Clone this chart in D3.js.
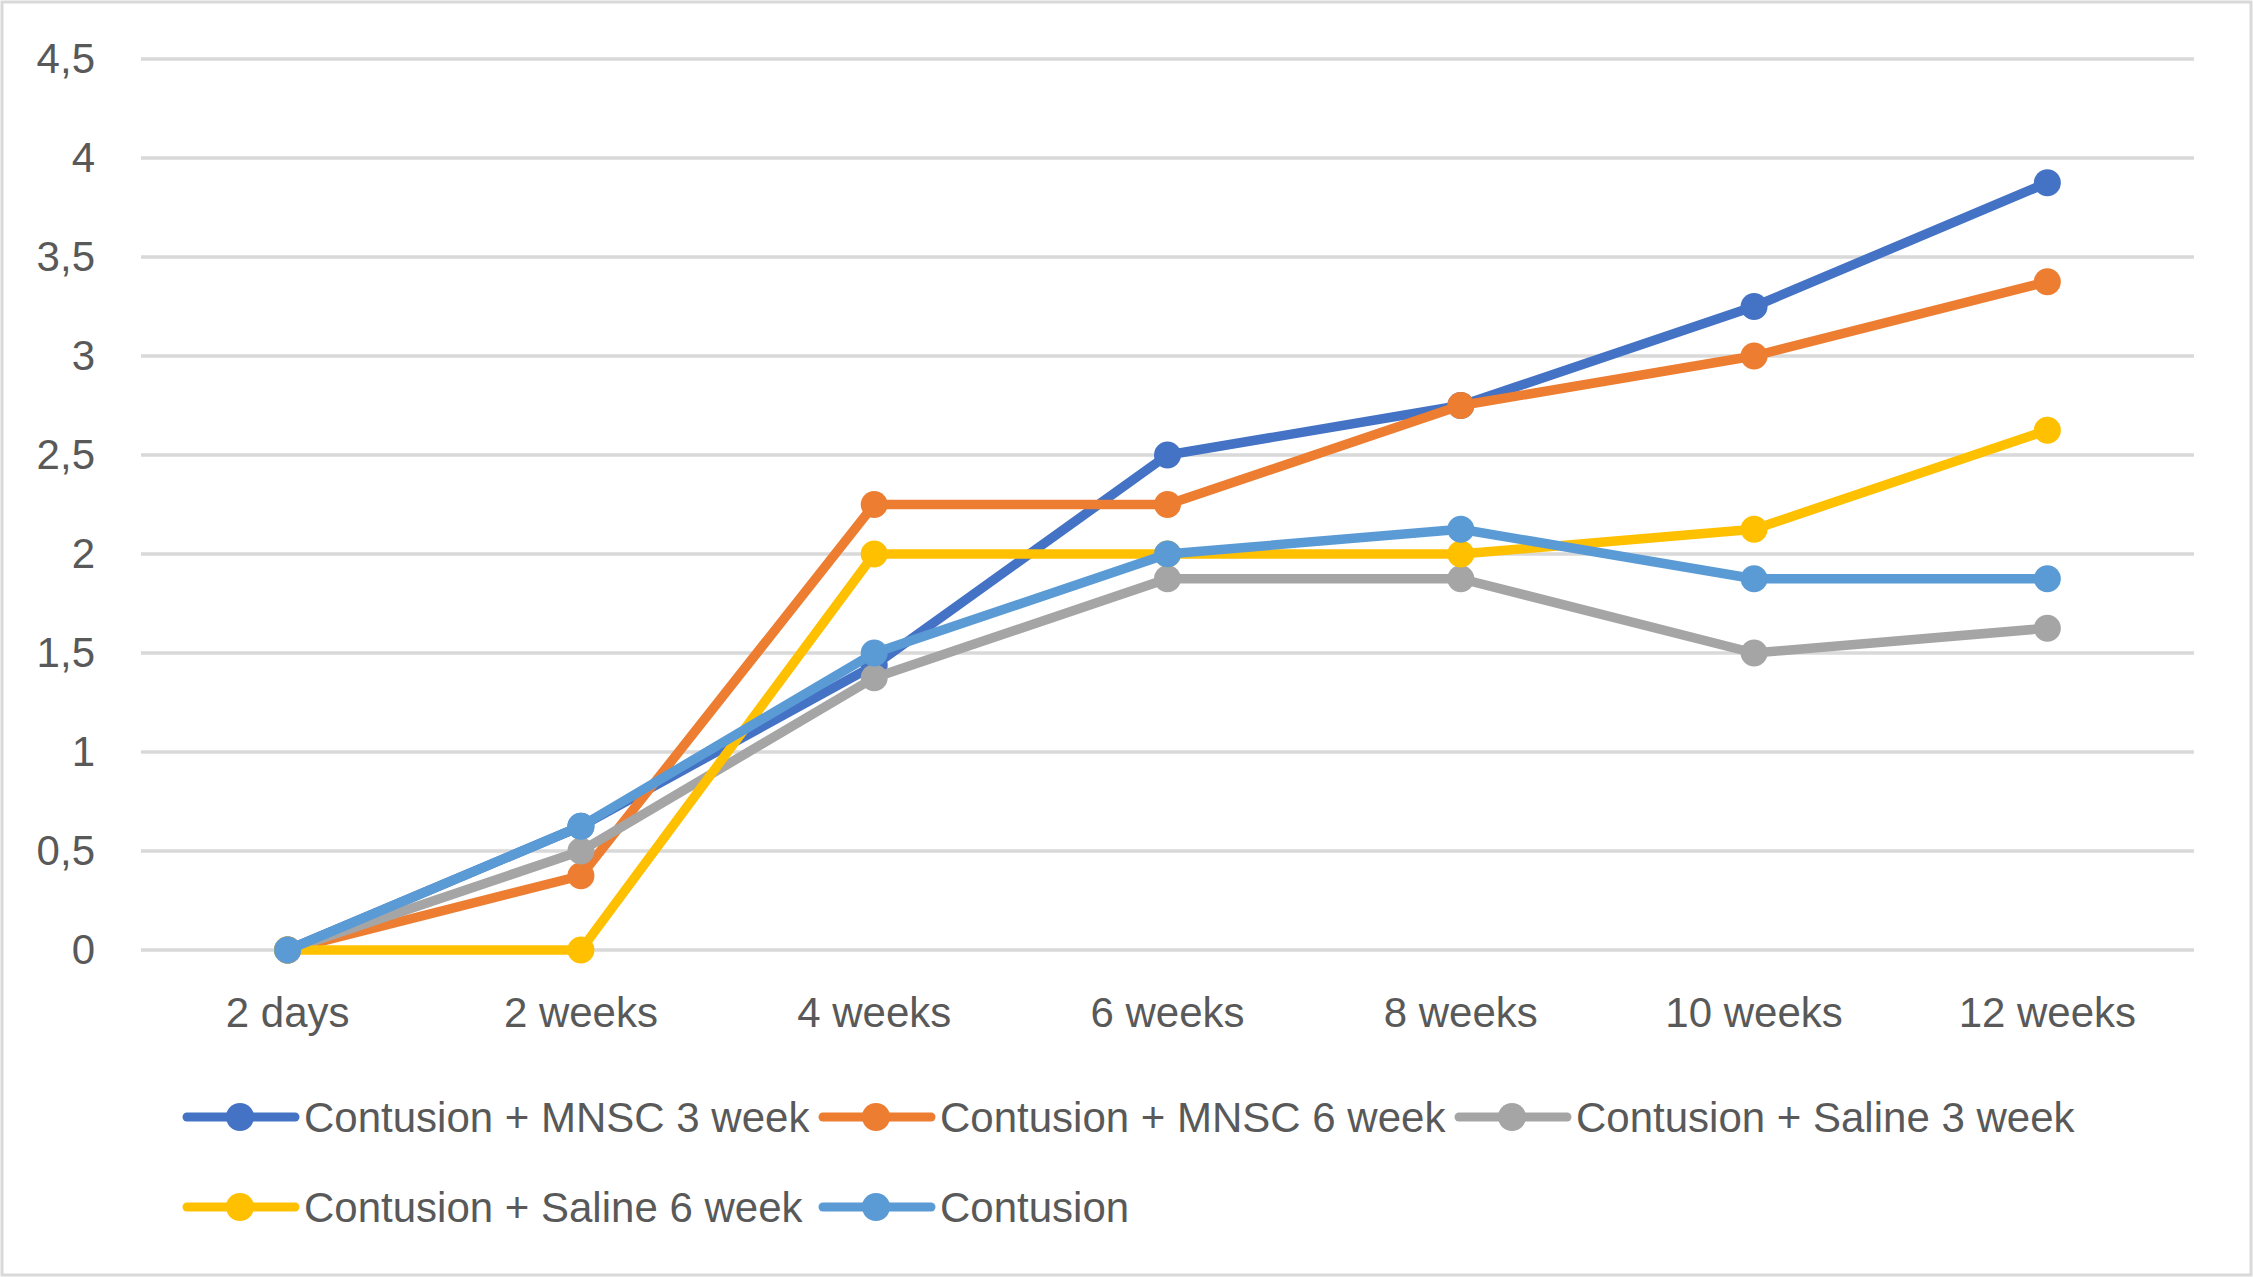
<!DOCTYPE html>
<html><head><meta charset="utf-8">
<script src="https://cdn.jsdelivr.net/npm/d3@7"></script>
<style>html,body{margin:0;padding:0;background:#fff;}svg{display:block;}</style>
</head><body>
<script>
const categories = ["2 days","2 weeks","4 weeks","6 weeks","8 weeks","10 weeks","12 weeks"];
const seriesNames = ["Contusion + MNSC 3 week","Contusion + MNSC 6 week","Contusion + Saline 3 week","Contusion + Saline 6 week","Contusion"];
const mnsc3 = [0, 0.625, 1.4375, 2.5, 2.75, 3.25, 3.875];
const mnsc6 = [0, 0.375, 2.25, 2.25, 2.75, 3.0, 3.375];
const saline3 = [0, 0.5, 1.375, 1.875, 1.875, 1.5, 1.625];
const saline6 = [0, 0, 2.0, 2.0, 2.0, 2.125, 2.625];
const contusion = [0, 0.625, 1.5, 2.0, 2.125, 1.875, 1.875];
const yTicks = [0, 0.5, 1, 1.5, 2, 2.5, 3, 3.5, 4, 4.5];
const colors = ["#4472C4","#ED7D31","#A5A5A5","#FFC000","#5B9BD5"];

(function(){
const series = [mnsc3, mnsc6, saline3, saline6, contusion].map((v,i)=>({name:seriesNames[i], values:v, color:colors[i]}));

const W = 2253, H = 1277;
const svg = d3.select("body").append("svg").attr("width", W).attr("height", H);
svg.append("rect").attr("x",2).attr("y",2).attr("width",W-4).attr("height",H-4)
  .attr("fill","#fff").attr("stroke","#D9D9D9").attr("stroke-width",3);

const pLeft = 141, pRight = 2194, pTop = 59, pBottom = 950;
const x = d3.scaleBand().domain(categories).range([pLeft, pRight]);
const y = d3.scaleLinear().domain([0, 4.5]).range([pBottom, pTop]);
const loc = d3.formatLocale({decimal:",", thousands:".", grouping:[3], currency:["",""]});
const fmt = loc.format("~g");
const font = "'Liberation Sans', Arial, sans-serif";
const txt = "#595959";
const fs = 42;

svg.append("g").selectAll("line").data(yTicks).join("line")
  .attr("x1", pLeft).attr("x2", pRight)
  .attr("y1", d=>y(d)).attr("y2", d=>y(d))
  .attr("stroke", "#D9D9D9").attr("stroke-width", 3.5);

const yAxis = svg.append("g").attr("transform", `translate(${pLeft},0)`)
  .call(d3.axisLeft(y).tickValues(yTicks).tickFormat(fmt).tickSize(0).tickPadding(46));
yAxis.select(".domain").remove();
yAxis.selectAll("text").attr("font-family", font).attr("font-size", fs).attr("fill", txt);

const xAxis = svg.append("g").attr("transform", `translate(0,${pBottom})`)
  .call(d3.axisBottom(x).tickSize(0).tickPadding(47));
xAxis.select(".domain").remove();
xAxis.selectAll("text").attr("font-family", font).attr("font-size", fs).attr("fill", txt);

const line = d3.line().x((d,i)=>x(categories[i]) + x.bandwidth()/2).y(d=>y(d));

const g = svg.append("g");
series.forEach(s=>{
  g.append("path").attr("d", line(s.values)).attr("fill","none")
    .attr("stroke", s.color).attr("stroke-width", 9.5).attr("stroke-linejoin","round").attr("stroke-linecap","round");
  g.append("g").selectAll("circle").data(s.values).join("circle")
    .attr("cx",(d,i)=>x(categories[i]) + x.bandwidth()/2).attr("cy", d=>y(d))
    .attr("r", 13.5).attr("fill", s.color);
});

const legendPos = [[187,1117],[823,1117],[1459,1117],[187,1207],[823,1207]];
series.forEach((s,i)=>{
  const [lx, ly] = legendPos[i];
  const lg = svg.append("g").attr("transform", `translate(${lx},${ly})`);
  lg.append("line").attr("x1",0).attr("x2",108).attr("y1",0).attr("y2",0)
    .attr("stroke", s.color).attr("stroke-width", 9).attr("stroke-linecap","round");
  lg.append("circle").attr("cx",53).attr("cy",0).attr("r",14).attr("fill", s.color);
  lg.append("text").attr("x",117).attr("y",0).attr("dy","0.35em")
    .attr("font-family", font).attr("font-size", fs).attr("fill", txt).text(s.name);
});
})();
</script>
</body></html>
